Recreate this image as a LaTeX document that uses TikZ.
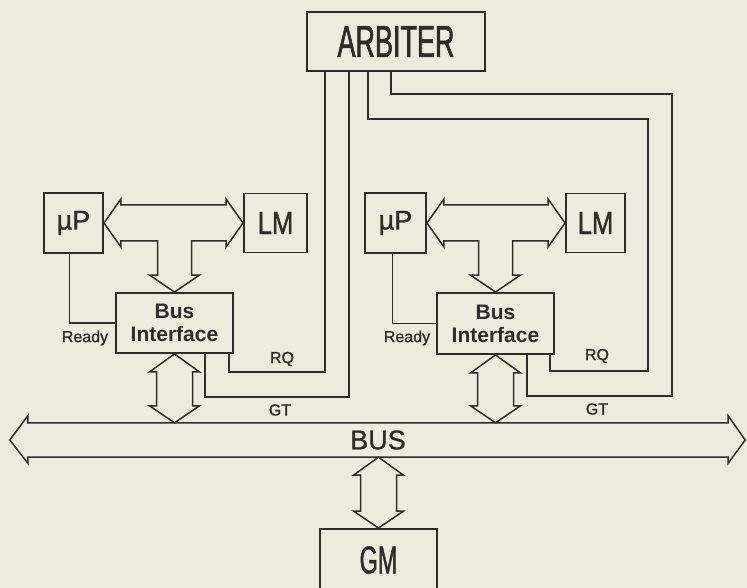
\documentclass[tikz,border=0pt]{standalone}
\usepackage{fontspec}
\setmainfont{Liberation Sans}
\newfontfamily\narrowsf[FakeStretch=0.6,FakeBold=1.2]{Liberation Sans}
\newfontfamily\midsf[FakeStretch=0.8,FakeBold=1.2]{Liberation Sans}
\newfontfamily\heavysf[FakeBold=1]{Liberation Sans}
\usetikzlibrary{calc}
\definecolor{paper}{RGB}{236,236,222}
\definecolor{ink}{RGB}{45,45,40}

% hollow T arrow: uP <-> LM, down into the bus interface
\newcommand{\hollowT}[3]{%
  \draw[hollow] let \p1=(#1.east), \p2=(#2.west), \p3=(#3.north) in
    (\p1) -- ({\x1+17pt},{\y1+24pt}) -- ({\x1+17pt},{\y1+18pt})
    -- ({\x2-17pt},{\y1+18pt}) -- ({\x2-17pt},{\y1+24pt}) -- (\x2,\y1)
    -- ({\x2-17pt},{\y1-24pt}) -- ({\x2-17pt},{\y1-18pt})
    -- ({\x3+17pt},{\y1-18pt}) -- ({\x3+17pt},{\y3+17pt}) -- ({\x3+25pt},{\y3+17pt})
    -- (\p3) -- ({\x3-25pt},{\y3+17pt}) -- ({\x3-17pt},{\y3+17pt})
    -- ({\x3-17pt},{\y1-18pt}) -- ({\x1+17pt},{\y1-18pt}) -- ({\x1+17pt},{\y1-24pt}) -- cycle;}
% hollow vertical double arrow
\newcommand{\hollowV}[2]{%
  \draw[hollow] let \p1=(#1), \p2=(#2) in
    (\p1) -- ({\x1+25pt},{\y1-18pt}) -- ({\x1+18pt},{\y1-18pt}) -- ({\x1+18pt},{\y2+17pt})
    -- ({\x1+25pt},{\y2+17pt}) -- (\x1,\y2) -- ({\x1-25pt},{\y2+17pt}) -- ({\x1-18pt},{\y2+17pt})
    -- ({\x1-18pt},{\y1-18pt}) -- ({\x1-25pt},{\y1-18pt}) -- cycle;}

\begin{document}
\begin{tikzpicture}[x=1pt,y=-1pt,
  box/.style={draw=ink, line width=1.9pt, inner sep=0pt, text=ink},
  wire/.style={draw=ink, line width=1.3pt},
  hollow/.style={draw=ink, line width=1.5pt, line join=miter},
  lbl/.style={text=ink, inner sep=0pt, font=\heavysf\fontsize{16}{18}\selectfont}]
\useasboundingbox (0,0) rectangle (747,588);
\fill[paper] (0,0) rectangle (747,588);

% boxes
\node[box, minimum width=178pt, minimum height=59pt, font=\narrowsf\fontsize{45}{50}\selectfont] (arb) at (396,41.5) {ARBITER};
\node[box, minimum width=59pt, minimum height=60pt, font=\heavysf\fontsize{27}{29}\selectfont] (upA) at (73.5,223) {µP};
\node[box, minimum width=63pt, minimum height=59pt, font=\midsf\fontsize{32}{34}\selectfont] (lmA) at (275.5,223) {LM};
\node[box, minimum width=117pt, minimum height=60pt, align=center, font=\bfseries\fontsize{21}{23}\selectfont] (ifA) at (174.5,323) {Bus\\Interface};
\node[box, minimum width=61pt, minimum height=60pt, font=\heavysf\fontsize{27}{29}\selectfont] (upB) at (395.5,223) {µP};
\node[box, minimum width=59pt, minimum height=59pt, font=\midsf\fontsize{32}{34}\selectfont] (lmB) at (595.5,223) {LM};
\node[box, minimum width=117pt, minimum height=61pt, align=center, font=\bfseries\fontsize{21}{23}\selectfont] (ifB) at (495.5,323.5) {Bus\\Interface};
\node[box, minimum width=117pt, minimum height=62pt, font=\narrowsf\fontsize{39}{42}\selectfont] (gm) at (378.5,560) {GM};
\node[inner sep=0pt, minimum width=700pt, minimum height=34pt, text=ink, font=\heavysf\fontsize{27}{29}\selectfont] (bus) at (378,440) {BUS};

% bus outline
\draw[hollow] let \p1=(bus.north west), \p2=(bus.south east), \p3=(bus.west) in
  (\p1) -- (\x2,\y1) -- (\x2,{\y1+7pt}) -- ({\x2+17pt},\y3) -- (\x2,{\y2-6pt}) -- (\p2)
  -- (\x1,\y2) -- (\x1,{\y2-6pt}) -- ({\x1-18pt},\y3) -- (\x1,{\y1+7pt}) -- cycle;

\hollowT{upA}{lmA}{ifA}
\hollowT{upB}{lmB}{ifB}
\hollowV{ifA.south}{ifA.south |- bus.north}
\hollowV{ifB.south}{ifB.south |- bus.north}
\hollowV{gm.north |- bus.south}{gm.north}

% signal lines
\coordinate (rqB) at (648,119);
\coordinate (gtB) at (672,94);
\draw[wire] ([xshift=-4pt]upA.south) |- (ifA.west);
\draw[wire] ([xshift=-5pt]ifA.south east) -- ++(0,18) -| ([xshift=19pt]arb.south west);
\draw[wire] ([xshift=-29pt]ifA.south east) -- ++(0,43) -| ([xshift=43pt]arb.south west);
\draw[wire] ([xshift=-3pt]upB.south) |- (ifB.west);
\draw[wire] ([xshift=-5pt]ifB.south east) -- ++(0,16) -| (rqB) -| ([xshift=62pt]arb.south west);
\draw[wire] ([xshift=-28pt]ifB.south east) -- ++(0,41) -| (gtB) -| ([xshift=85pt]arb.south west);

\node[lbl] (rdyA) at (85,338) {Ready};
\node[lbl] (rqA) at (282,359) {RQ};
\node[lbl] (gtA) at (280,410) {GT};
\node[lbl] (rdyB) at (407,338) {Ready};
\node[lbl] (rqLB) at (597,356) {RQ};
\node[lbl] (gtLB) at (597,409) {GT};
\end{tikzpicture}
\end{document}
